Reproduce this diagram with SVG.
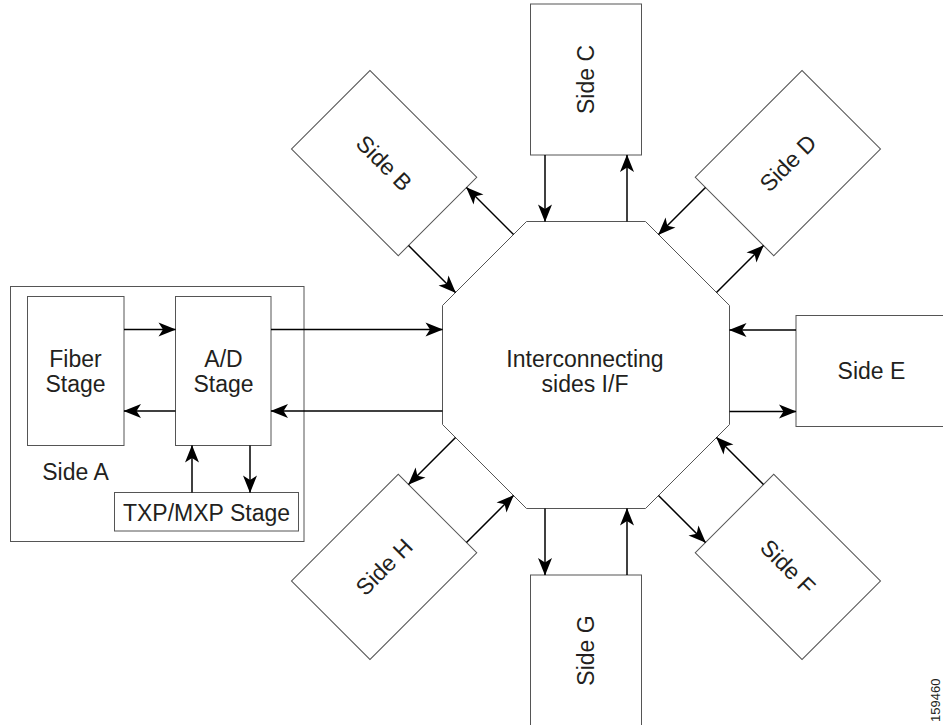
<svg xmlns="http://www.w3.org/2000/svg" width="943" height="725" viewBox="0 0 943 725">
<style>
.box{fill:#fff;stroke:#555;stroke-width:1}
.frame{fill:none;stroke:#555;stroke-width:1}
.arr{stroke:#000;stroke-width:1.5;fill:none;marker-end:url(#ah)}
.t{font-family:"Liberation Sans",Arial,Helvetica,sans-serif;font-size:23px;fill:#231f20;text-anchor:middle}
.s{font-family:"Liberation Sans",Arial,Helvetica,sans-serif;font-size:13px;fill:#231f20}
</style>
<defs>
<marker id="ah" markerUnits="userSpaceOnUse" markerWidth="20" markerHeight="16" viewBox="-18 -8 19 16" refX="0" refY="0" orient="auto">
<path d="M0.5,0 L-17,-7 L-12.5,0 L-17,7 Z" fill="#000"/>
</marker>
</defs>
<rect width="943" height="725" fill="#fff"/>

<g id="side-a">
<rect class="frame" x="10.5" y="286.5" width="293.5" height="255"/>
<rect class="box" x="27.5" y="296.5" width="96.5" height="149"/>
<rect class="box" x="175.5" y="296.5" width="95.5" height="149"/>
<rect class="box" x="114.5" y="492.5" width="184" height="38.5"/>
<text class="t" x="75.5" y="367">Fiber</text>
<text class="t" x="75.5" y="392">Stage</text>
<text class="t" x="223.5" y="367">A/D</text>
<text class="t" x="223.5" y="392">Stage</text>
<text class="t" x="75.5" y="480">Side A</text>
<text class="t" x="206.5" y="521">TXP/MXP Stage</text>
</g>

<g id="interconnect">
<polygon class="box" points="526.5,221.5 645.5,221.5 729.5,305.5 729.5,424.5 645.5,508.5 526.5,508.5 442.5,424.5 442.5,305.5"/>
<text class="t" x="585" y="367">Interconnecting</text>
<text class="t" x="585" y="392">sides I/F</text>
</g>

<g id="side-b">
<rect class="box" x="530.5" y="4" width="111" height="151" transform="rotate(-45 586 365)"/>
<text class="t" y="8" transform="translate(384.1,163.1) rotate(45)">Side B</text>
</g>
<g id="side-c">
<rect class="box" x="530.5" y="4" width="111" height="151"/>
<text class="t" y="8" transform="translate(586,79.5) rotate(-90)">Side C</text>
</g>
<g id="side-d">
<rect class="box" x="530.5" y="4" width="111" height="151" transform="rotate(45 586 365)"/>
<text class="t" y="8" transform="translate(787.9,163.1) rotate(-45)">Side D</text>
</g>
<g id="side-e">
<rect class="box" x="530.5" y="4" width="111" height="151" transform="translate(0 6) rotate(90 586 365)"/>
<text class="t" x="871.5" y="379">Side E</text>
</g>
<g id="side-f">
<rect class="box" x="530.5" y="4" width="111" height="151" transform="rotate(135 586 365)"/>
<text class="t" y="8" transform="translate(787.9,566.9) rotate(45)">Side F</text>
</g>
<g id="side-g">
<rect class="box" x="530.5" y="4" width="111" height="151" transform="rotate(180 586 365)"/>
<text class="t" y="8" transform="translate(586,650.5) rotate(-90)">Side G</text>
</g>
<g id="side-h">
<rect class="box" x="530.5" y="4" width="111" height="151" transform="rotate(-135 586 365)"/>
<text class="t" y="8" transform="translate(384.1,566.9) rotate(-45)">Side H</text>
</g>

<g id="connectors">
<line class="arr" x1="124" y1="329.5" x2="175.5" y2="329.5"/>
<line class="arr" x1="175.5" y1="411" x2="124" y2="411"/>
<line class="arr" x1="271" y1="329.5" x2="442.5" y2="329.5"/>
<line class="arr" x1="442.5" y1="411" x2="271" y2="411"/>
<line class="arr" x1="192" y1="492.5" x2="192" y2="445.5"/>
<line class="arr" x1="250" y1="445.5" x2="250" y2="492.5"/>
<g id="c-b" transform="rotate(-45 586 365)">
<line class="arr" x1="545" y1="155" x2="545" y2="221.5"/>
<line class="arr" x1="627" y1="221.5" x2="627" y2="155"/>
</g>
<g id="c-c">
<line class="arr" x1="545" y1="155" x2="545" y2="221.5"/>
<line class="arr" x1="627" y1="221.5" x2="627" y2="155"/>
</g>
<g id="c-d" transform="rotate(45 586 365)">
<line class="arr" x1="545" y1="155" x2="545" y2="221.5"/>
<line class="arr" x1="627" y1="221.5" x2="627" y2="155"/>
</g>
<g id="c-e">
<line class="arr" x1="796" y1="330" x2="729.5" y2="330"/>
<line class="arr" x1="729.5" y1="411.5" x2="796" y2="411.5"/>
</g>
<g id="c-f" transform="rotate(135 586 365)">
<line class="arr" x1="545" y1="155" x2="545" y2="221.5"/>
<line class="arr" x1="627" y1="221.5" x2="627" y2="155"/>
</g>
<g id="c-g" transform="rotate(180 586 365)">
<line class="arr" x1="545" y1="155" x2="545" y2="221.5"/>
<line class="arr" x1="627" y1="221.5" x2="627" y2="155"/>
</g>
<g id="c-h" transform="rotate(-135 586 365)">
<line class="arr" x1="545" y1="155" x2="545" y2="221.5"/>
<line class="arr" x1="627" y1="221.5" x2="627" y2="155"/>
</g>
</g>

<text class="s" transform="translate(940,722) rotate(-90)">159460</text>
</svg>
